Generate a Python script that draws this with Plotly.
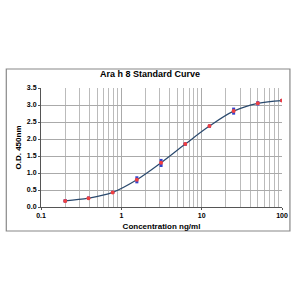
import plotly.graph_objects as go

conc = [0.2, 0.39, 0.78, 1.56, 3.125, 6.25, 12.5, 25, 50, 100]
od_mean = [0.18, 0.26, 0.43, 0.80, 1.30, 1.85, 2.38, 2.82, 3.05, 3.13]
od_rep = [0.18, 0.26, 0.43, 0.86, 1.37, 1.85, 2.38, 2.88, 3.07, 3.13]
od_rep2 = [0.18, 0.26, 0.43, 0.74, 1.22, 1.85, 2.38, 2.76, 3.03, 3.13]

y_ticks = [0, 0.5, 1.0, 1.5, 2.0, 2.5, 3.0, 3.5]
x_ticks = [0.1, 1, 10, 100]

font = "Liberation Sans, Arial, sans-serif"

fig = go.Figure()
fig.add_trace(go.Scatter(x=conc, y=od_mean, mode="lines", line=dict(color="#2b4a6e", width=1.2, shape="spline", smoothing=1.0),
                         hoverinfo="skip", showlegend=False))
fig.add_trace(go.Scatter(x=conc + conc, y=od_rep + od_rep2, mode="markers",
                         marker=dict(color="#3344cc", size=3, symbol="square"),
                         showlegend=False))
fig.add_trace(go.Scatter(x=conc, y=od_mean, mode="markers",
                         marker=dict(color="#f04040", size=4), showlegend=False))

fig.update_layout(
    width=300, height=300,
    margin=dict(l=41, r=16, t=88, b=93),
    paper_bgcolor="white", plot_bgcolor="white",
    title=dict(text="<b>Ara h 8 Standard Curve</b>", x=0.5, xanchor="center", y=1 - 74/300, yanchor="middle",
               font=dict(family=font, size=9, color="black")),
    font=dict(family=font, size=7, color="black"),
    xaxis=dict(type="log", range=[-1, 2], tickvals=x_ticks, ticktext=["<b>0.1</b>", "<b>1</b>", "<b>10</b>", "<b>100</b>"],
               showgrid=True, gridcolor="#aaaaaa", gridwidth=1,
               minor=dict(showgrid=True, gridcolor="#bbbbbb", gridwidth=1, dtick="D1"),
               showline=True, linecolor="#555", linewidth=1, ticks="outside", ticklen=2, tickcolor="#555",
               title=dict(text="<b>Concentration ng/ml</b>", font=dict(size=8), standoff=4),
               zeroline=False),
    yaxis=dict(range=[0, 3.5], tickvals=y_ticks, ticktext=["<b>%.1f</b>" % v for v in y_ticks],
               showgrid=True, gridcolor="#aaaaaa", gridwidth=1,
               showline=True, linecolor="#555", linewidth=1, ticks="outside", ticklen=2, tickcolor="#555",
               title=dict(text="<b>O.D. 450nm</b>", font=dict(size=8), standoff=4),
               zeroline=False),
    shapes=[dict(type="rect", xref="paper", yref="paper", x0=(6-41)/243, x1=(292-41)/243,
                 y0=(207-231)/119, y1=(207-69)/119, line=dict(color="#888", width=1.2), layer="below")],
)
fig.write_html("out.html")
